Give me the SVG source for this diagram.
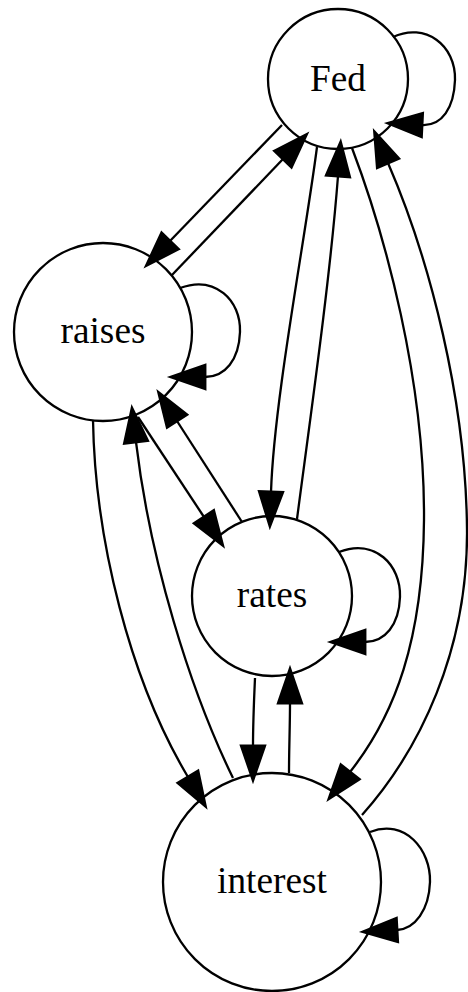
<svg xmlns="http://www.w3.org/2000/svg" width="468" height="992" viewBox="0 0 468 992">
<style>
.node circle{fill:#fff;stroke:#000;stroke-width:2.3}
.node text{font-family:"Liberation Serif","Times New Roman",serif;font-size:37.3px;text-anchor:middle;fill:#000}
.edge path{fill:none;stroke:#000;stroke-width:2.3;marker-end:url(#arr)}
</style>
<defs>
<marker id="arr" markerUnits="userSpaceOnUse" markerWidth="40" markerHeight="30" refX="0" refY="0" viewBox="-2 -12 32 24" orient="auto" overflow="visible">
<path d="M0,-9.3 L27,0 L0,9.3 z" fill="#000" stroke="#000" stroke-width="2.3"/>
</marker>
</defs>
<rect width="468" height="992" fill="#fff"/>
<g id="nodes">
<g id="Fed" class="node"><circle cx="338" cy="79" r="70"/><text x="338" y="91">Fed</text></g>
<g id="raises" class="node"><circle cx="103" cy="332" r="89"/><text x="103" y="343">raises</text></g>
<g id="rates" class="node"><circle cx="272" cy="596" r="80"/><text x="272" y="607">rates</text></g>
<g id="interest" class="node"><circle cx="272" cy="882" r="109"/><text x="272" y="893">interest</text></g>
</g>
<g id="connectors" class="edge">
<path id="Fed-Fed" d="M393,37 C425,22 456,45 455,80 C454,108 442,126 422,125"/>
<path id="Fed-raises" d="M282,125 L170,241"/>
<path id="raises-Fed" d="M172,275 L283,159"/>
<path id="Fed-rates" d="M317,147 C305,240 274,400 271,492"/>
<path id="rates-Fed" d="M297,519 C310,420 330,280 338,176"/>
<path id="Fed-interest" d="M352,148 C385,235 425,380 424,520 C423,640 395,715 350,772"/>
<path id="interest-Fed" d="M362,815 C420,750 468,650 467,530 C466,400 430,260 388,163"/>
<path id="raises-raises" d="M180,288 C215,275 241,300 240,332 C239,360 225,377 205,377"/>
<path id="raises-rates" d="M138,417 L204,517"/>
<path id="rates-raises" d="M242,522 L177,421"/>
<path id="raises-interest" d="M93,420 C95,540 130,680 188,777"/>
<path id="interest-raises" d="M233,778 C190,690 150,560 136,442"/>
<path id="rates-rates" d="M339,552 C375,538 401,565 400,597 C399,625 385,642 365,642"/>
<path id="rates-interest" d="M255,678 C254,700 253,725 253,746"/>
<path id="interest-rates" d="M289,773 C289,750 290,725 290,703"/>
<path id="interest-interest" d="M370,832 C405,818 431,850 430,882 C429,910 415,929 397,930"/>
</g>
</svg>
